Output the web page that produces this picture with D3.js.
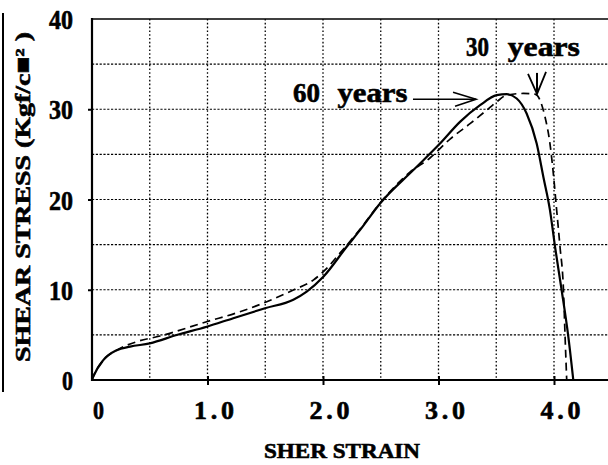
<!DOCTYPE html>
<html>
<head>
<meta charset="utf-8">
<script src="https://cdn.jsdelivr.net/npm/d3@7"></script>
<style>
  html, body { margin: 0; padding: 0; background: #fff; }
  svg { display: block; }
  text { font-family: "Liberation Serif", "DejaVu Serif", serif; font-weight: bold; fill: #000; }
</style>
</head>
<body>
<svg id="chart" width="608" height="465"></svg>
<script>
// ---- data ----
const strain60 = [0, 0.011, 0.098, 0.214, 0.33, 0.5, 0.733, 0.993, 1.223, 1.498, 1.743, 1.859, 2.003, 2.205, 2.32, 2.494, 2.782, 3.013, 3.186, 3.36, 3.504, 3.59, 3.677, 3.763, 3.85, 3.908, 3.965, 4.009, 4.066, 4.124, 4.167];
const stress60 = [0, 0.37, 2.2, 3.3, 3.7, 4.06, 4.98, 5.9, 6.85, 7.95, 8.9, 9.8, 11.44, 14.76, 16.6, 19.56, 23.26, 26.2, 28.6, 30.45, 31.56, 31.67, 31.19, 29.53, 26.2, 22.5, 18.83, 14.76, 9.97, 4.8, 0];

const strain30 = [0, 0.011, 0.098, 0.214, 0.387, 0.589, 0.993, 1.281, 1.513, 1.743, 1.916, 2.032, 2.147, 2.32, 2.494, 2.75, 2.926, 3.1, 3.273, 3.417, 3.504, 3.59, 3.734, 3.835, 3.879, 3.922, 3.965, 3.994, 4.023, 4.052, 4.082, 4.096, 4.11];
const stress30 = [0, 0.37, 2.2, 3.3, 4.24, 4.87, 6.46, 7.56, 8.67, 9.97, 11.07, 12.37, 14.06, 16.7, 19.6, 23.0, 24.6, 26.7, 28.4, 29.9, 30.83, 31.56, 31.75, 31.67, 31.0, 29.16, 26.2, 22.9, 18.83, 14.76, 9.97, 4.8, 0];

const xTickValues = [0, 1, 2, 3, 4];
const xTickLabels = ["0", "1.0", "2.0", "3.0", "4.0"];
const yTickValues = [0, 10, 20, 30, 40];
const yTickLabels = ["0", "10", "20", "30", "40"];
const xGridValues = [0.5, 1, 1.5, 2, 2.5, 3, 3.5, 4];
const yGridValues = [5, 10, 15, 20, 25, 30, 35];

const xTitle = "SHER STRAIN";
const yTitle = "SHEAR STRESS (Kgf/c\u25A0\u00B2 )";
const seriesNames = ["60 years", "30 years"];

// ---- layout ----
const svg = d3.select("#chart");
const x = d3.scaleLinear().domain([0, 4.5]).range([92, 611.75]);
const y = d3.scaleLinear().domain([0, 40]).range([380, 19]);
const rightEdge = 608;
const heavy = sel => sel.attr("stroke", "#000").attr("stroke-width", 0.6).attr("paint-order", "stroke");

// decorative left border line
svg.append("line").attr("x1", 3).attr("x2", 3).attr("y1", 13).attr("y2", 392)
  .attr("stroke", "#000").attr("stroke-width", 2);

// grid
const grid = svg.append("g");
grid.selectAll("line.h").data(yGridValues).join("line")
  .attr("x1", x(0)).attr("x2", rightEdge)
  .attr("y1", d => y(d)).attr("y2", d => y(d))
  .attr("stroke", "#000").attr("stroke-width", 1.2).attr("stroke-dasharray", "2.2,1.6");
grid.selectAll("line.v").data(xGridValues).join("line")
  .attr("x1", d => x(d)).attr("x2", d => x(d))
  .attr("y1", y(40)).attr("y2", y(0))
  .attr("stroke", "#000").attr("stroke-width", 1.3).attr("stroke-dasharray", "1.6,2.2");

// top border
svg.append("line").attr("x1", x(0)).attr("x2", rightEdge).attr("y1", y(40)).attr("y2", y(40))
  .attr("stroke", "#000").attr("stroke-width", 1.6);

// axes lines
svg.append("line").attr("x1", x(0)).attr("x2", x(0)).attr("y1", y(40) - 1).attr("y2", y(0) + 1)
  .attr("stroke", "#000").attr("stroke-width", 2.2);
svg.append("line").attr("x1", x(0) - 1).attr("x2", rightEdge).attr("y1", y(0)).attr("y2", y(0))
  .attr("stroke", "#000").attr("stroke-width", 2);

// x ticks (crossing) and labels
const xAxis = d3.axisBottom(x).tickValues(xTickValues)
  .tickFormat((d, i) => xTickLabels[i]).tickSize(0).tickPadding(0);
const gx = svg.append("g").attr("transform", `translate(0,${y(0)})`).call(xAxis);
gx.select(".domain").remove();
gx.selectAll(".tick").filter(d => d > 0).append("line")
  .attr("y1", -4).attr("y2", 5).attr("stroke", "#000").attr("stroke-width", 2);
gx.selectAll(".tick text")
  .attr("y", 39).attr("dy", null)
  .attr("x", 6)
  .attr("font-size", 26)
  .attr("textLength", (d, i) => xTickLabels[i].length > 1 ? 40 : 11)
  .attr("lengthAdjust", (d, i) => xTickLabels[i].length > 1 ? "spacing" : "spacingAndGlyphs")
  .style("font-family", '"Liberation Serif", serif').style("font-weight", "bold")
  .call(heavy);

// y ticks and labels
const yAxis = d3.axisLeft(y).tickValues(yTickValues)
  .tickFormat((d, i) => yTickLabels[i]).tickSize(0).tickPadding(0);
const gy = svg.append("g").attr("transform", `translate(${x(0)},0)`).call(yAxis);
gy.select(".domain").remove();
gy.selectAll(".tick").filter(d => d > 0 && d < 40).append("line")
  .attr("x1", -4).attr("x2", 0).attr("stroke", "#000").attr("stroke-width", 2);
gy.selectAll(".tick text")
  .attr("x", -19).attr("dy", "0.36em")
  .attr("font-size", 27)
  .attr("textLength", (d, i) => yTickLabels[i].length > 1 ? 24 : 11)
  .attr("lengthAdjust", "spacingAndGlyphs")
  .style("font-family", '"Liberation Serif", serif').style("font-weight", "bold")
  .call(heavy);

// curves
const line = d3.line().x(d => x(d[0])).y(d => y(d[1])).curve(d3.curveMonotoneX);
const pts30 = strain30.map((s, i) => [s, stress30[i]]);
const pts60 = strain60.map((s, i) => [s, stress60[i]]);
svg.append("path").attr("d", line(pts30)).attr("fill", "none")
  .attr("stroke", "#000").attr("stroke-width", 1.7).attr("stroke-dasharray", "8,5");
svg.append("path").attr("d", line(pts60)).attr("fill", "none")
  .attr("stroke", "#000").attr("stroke-width", 2.2);

// annotations
function label(txt, xs, ys, numW, wordX, wordW) {
  const parts = txt.split(" ");
  const t = svg.append("text").attr("font-size", 28).attr("y", y(ys)).call(heavy);
  t.append("tspan").attr("x", x(xs)).attr("textLength", numW)
    .attr("lengthAdjust", "spacingAndGlyphs").text(parts[0]);
  t.append("tspan").text(" ");
  t.append("tspan").attr("x", x(wordX)).attr("textLength", wordW)
    .attr("lengthAdjust", "spacingAndGlyphs").text(parts[1]);
}
label(seriesNames[0], 1.74, 30.75, 27, 2.125, 70);
label(seriesNames[1], 3.238, 35.95, 23, 3.6, 72);

// 60 years arrow (pointing right)
const tip60 = [x(3.325), y(31.1)];
svg.append("line").attr("x1", x(2.779)).attr("y1", tip60[1]).attr("x2", tip60[0]).attr("y2", tip60[1])
  .attr("stroke", "#000").attr("stroke-width", 1.6);
svg.append("path")
  .attr("d", `M${tip60[0] - 23},${tip60[1] - 7} L${tip60[0]},${tip60[1]} L${tip60[0] - 21},${tip60[1] + 7}`)
  .attr("fill", "none").attr("stroke", "#000").attr("stroke-width", 1.6);

// 30 years arrow (pointing down)
const tip30 = [x(3.853), y(31.7)];
svg.append("line").attr("x1", tip30[0]).attr("y1", tip30[1] - 21).attr("x2", tip30[0]).attr("y2", tip30[1])
  .attr("stroke", "#000").attr("stroke-width", 2);
svg.append("path")
  .attr("d", `M${tip30[0] - 9},${tip30[1] - 20} L${tip30[0]},${tip30[1]} L${tip30[0] + 9},${tip30[1] - 22}`)
  .attr("fill", "none").attr("stroke", "#000").attr("stroke-width", 1.8);

// axis titles
svg.append("text").attr("x", 342).attr("y", 458).attr("text-anchor", "middle")
  .attr("font-size", 22).attr("textLength", 156).attr("lengthAdjust", "spacingAndGlyphs")
  .call(heavy)
  .text(xTitle);
svg.append("text").attr("transform", "translate(30,197) rotate(-90)")
  .attr("text-anchor", "middle")
  .attr("font-size", 22).attr("textLength", 330).attr("lengthAdjust", "spacingAndGlyphs")
  .call(heavy)
  .text(yTitle);
</script>
</body>
</html>
